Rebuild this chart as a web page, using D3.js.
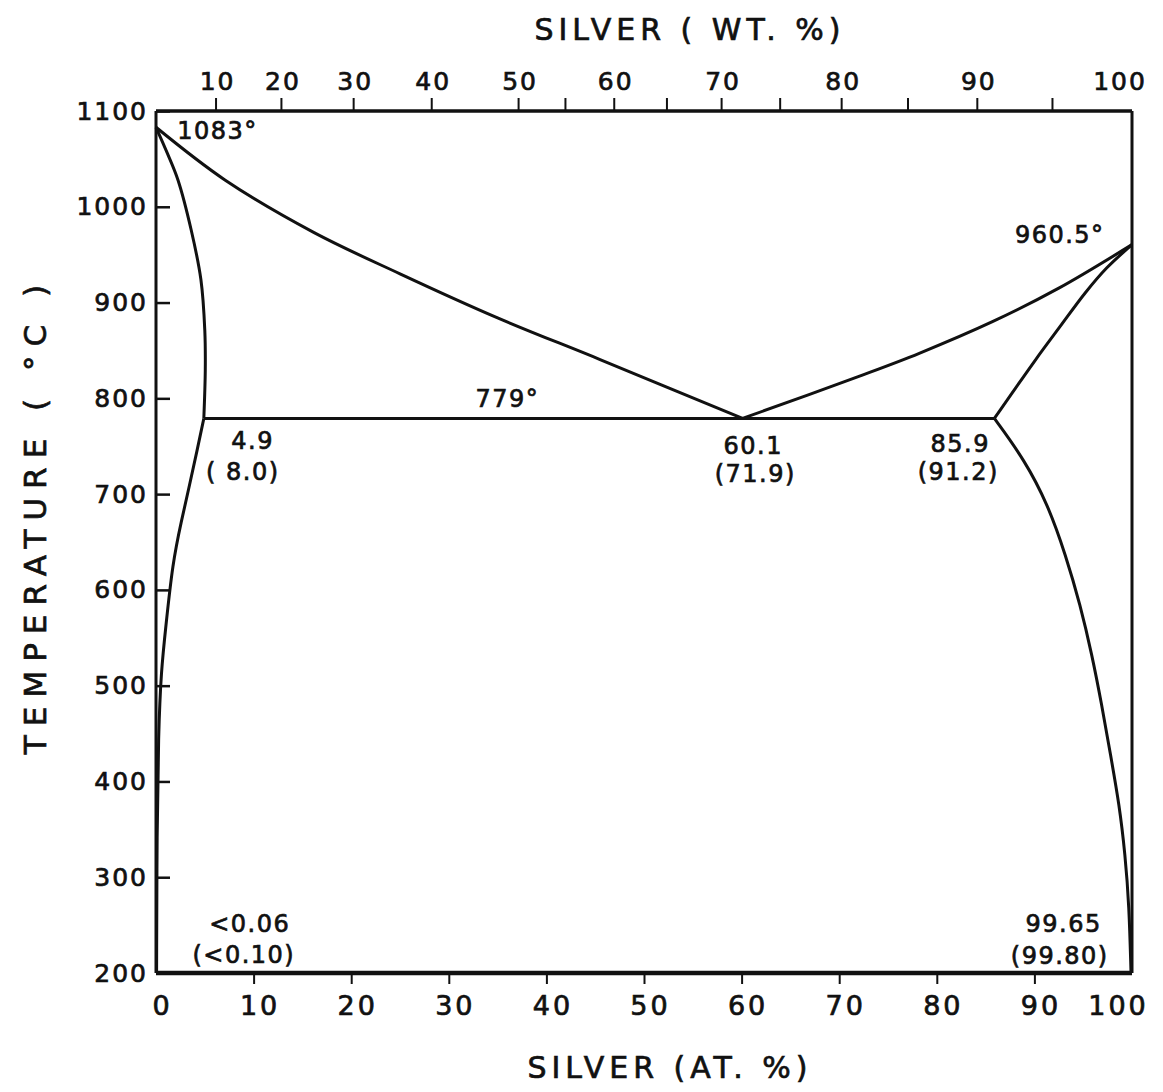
<!DOCTYPE html>
<html>
<head>
<meta charset="utf-8">
<script src="https://cdn.jsdelivr.net/npm/d3@7"></script>
<style>
  body { margin: 0; background: #fff; }
  svg text { font-family: "DejaVu Sans", sans-serif; fill: #111; stroke: #111; stroke-width: 0.7; }
</style>
</head>
<body>
<svg id="chart" width="1163" height="1092"></svg>
<script>
// Axis ticks
const atTicks = [0, 10, 20, 30, 40, 50, 60, 70, 80, 90, 100];
const tempTicks = [200, 300, 400, 500, 600, 700, 800, 900, 1000, 1100];
// weight % ticks on the top axis, with their atomic % positions
const wtTicks = [10, 20, 30, 40, 50, 55, 60, 65, 70, 75, 80, 85, 90, 95, 100];
const wtTickAt = [6.1, 12.8, 20.2, 28.2, 37.1, 41.9, 46.9, 52.3, 57.9, 63.9, 70.2, 77.0, 84.1, 91.8, 100];
const wtLabels = ["10", "20", "30", "40", "50", "60", "70", "80", "90", "100"];

// Phase boundaries [at.% Ag, temperature °C]
const liquidusCu = [[0, 1083], [7.06, 1028], [16.2, 973], [25, 930], [35, 884], [45.5, 840.5], [60.1, 779]];
const liquidusAg = [[60.1, 779], [72.3, 824], [78.2, 847], [85.7, 880], [92.5, 915], [100, 960.5]];
const solidusCu = [[0, 1083], [1.2, 1055], [2.25, 1028], [3.6, 976], [4.6, 924], [5.0, 871], [5.05, 830], [4.9, 779]];
const solidusAg = [[85.9, 779], [90.1, 840], [92.6, 874.5], [95.2, 910], [97.4, 936], [100, 960.5]];
const solvusCu = [[4.9, 779], [4.2, 745], [3.45, 710], [2.6, 672], [1.7, 628], [1.0, 561], [0.53, 516], [0.25, 450], [0.1, 350], [0.06, 200]];
const solvusAg = [[85.9, 779], [89.0, 735.6], [91.4, 688.6], [93.2, 636.5], [94.7, 584.3], [95.9, 532.1], [96.9, 480], [97.8, 427.8], [98.7, 375.6], [99.3, 323.4], [99.7, 271.2], [99.9, 200]];
const eutectic = [[4.9, 779], [85.9, 779]];

// Annotations [at.%, temperature, text]
const notes = [
  [6.3, 1078, "1083°"],
  [92.6, 970, "960.5°"],
  [36, 798, "779°"],
  [9.9, 754, "4.9"], [8.9, 722, "( 8.0)"],
  [61.2, 749, "60.1"], [61.4, 720, "(71.9)"],
  [82.4, 751, "85.9"], [82.2, 722, "(91.2)"],
  [9.6, 250, "<0.06"], [9.0, 218, "(<0.10)"],
  [93.0, 250, "99.65"], [92.6, 217, "(99.80)"]
];

const svg = d3.select("#chart");
const x = d3.scaleLinear().domain([0, 100]).range([156, 1132]);
const y = d3.scaleLinear().domain([200, 1100]).range([973, 111]);

// frame
const frame = svg.append("g").attr("stroke", "#111").attr("fill", "none");
frame.append("line").attr("x1", x(0)).attr("x2", x(100)).attr("y1", y(1100)).attr("y2", y(1100)).attr("stroke-width", 3.5);
frame.append("line").attr("x1", x(0)).attr("x2", x(100)).attr("y1", y(200)).attr("y2", y(200)).attr("stroke-width", 4.5);
frame.append("line").attr("x1", x(0)).attr("x2", x(0)).attr("y1", y(1100)).attr("y2", y(200)).attr("stroke-width", 3);
frame.append("line").attr("x1", x(100)).attr("x2", x(100)).attr("y1", y(1100)).attr("y2", y(200)).attr("stroke-width", 3);

// left axis, inward ticks
const leftAxis = svg.append("g")
  .attr("transform", `translate(${x(0)},0)`)
  .call(d3.axisLeft(y).tickValues(tempTicks).tickSize(-14).tickPadding(8).tickFormat(d3.format("d")));
leftAxis.select(".domain").remove();
leftAxis.selectAll(".tick line").attr("stroke", "#111").attr("stroke-width", 2.5);
leftAxis.selectAll(".tick text").attr("font-size", 25).attr("letter-spacing", 2).attr("dy", "0.32em");

// bottom axis, outward ticks
const bottomAxis = svg.append("g")
  .attr("transform", `translate(0,${y(200)})`)
  .call(d3.axisBottom(x).tickValues(atTicks).tickSize(11).tickPadding(12).tickFormat(d3.format("d")));
bottomAxis.select(".domain").remove();
bottomAxis.selectAll(".tick line").attr("stroke", "#111").attr("stroke-width", 2)
  .attr("display", d => (d === 0 || d === 100) ? "none" : null);
bottomAxis.selectAll(".tick text").attr("font-size", 27).attr("letter-spacing", 3)
  .attr("dx", d => d === 100 ? -14 : 6);

// top axis (weight %)
const topAxis = svg.append("g")
  .attr("transform", `translate(0,${y(1100)})`)
  .call(d3.axisTop(x).tickValues(wtTickAt.slice(0, -1)).tickSize(13).tickFormat(""));
topAxis.select(".domain").remove();
topAxis.selectAll(".tick line").attr("stroke", "#111").attr("stroke-width", 2);
svg.append("g").selectAll("text")
  .data(wtLabels)
  .join("text")
  .attr("x", d => x(wtTickAt[wtTicks.indexOf(+d)]) + (d === "100" ? -12 : 2))
  .attr("y", 90)
  .attr("text-anchor", "middle")
  .attr("font-size", 25)
  .attr("letter-spacing", 2)
  .text(d => d);

// phase boundaries
const smooth = d3.line()
  .x(d => x(d[0]))
  .y(d => y(d[1]))
  .curve(d3.curveCatmullRom.alpha(0.5));
const soft = d3.line()
  .x(d => x(d[0]))
  .y(d => y(d[1]))
  .curve(d3.curveBasis);
const curves = [
  [liquidusCu, smooth], [liquidusAg, smooth], [eutectic, smooth],
  [solidusCu, smooth], [solidusAg, smooth], [solvusCu, soft], [solvusAg, soft]
];
svg.append("g").selectAll("path")
  .data(curves)
  .join("path")
  .attr("d", d => d[1](d[0]))
  .attr("fill", "none")
  .attr("stroke", "#111")
  .attr("stroke-width", 3)
  .attr("stroke-linejoin", "round");

// annotations
svg.append("g").selectAll("text")
  .data(notes)
  .join("text")
  .attr("x", d => x(d[0]))
  .attr("y", d => y(d[1]))
  .attr("text-anchor", "middle")
  .attr("dominant-baseline", "middle")
  .attr("font-size", 24)
  .attr("letter-spacing", 1.5)
  .text(d => d[2]);

// axis titles
svg.append("text")
  .attr("x", 690).attr("y", 40)
  .attr("text-anchor", "middle")
  .attr("font-size", 30)
  .attr("letter-spacing", 5)
  .text("SILVER ( WT. %)");
svg.append("text")
  .attr("x", 670).attr("y", 1078)
  .attr("text-anchor", "middle")
  .attr("font-size", 30)
  .attr("letter-spacing", 5)
  .text("SILVER (AT. %)");
svg.append("text")
  .attr("transform", "translate(46,515) rotate(-90)")
  .attr("text-anchor", "middle")
  .attr("font-size", 31)
  .attr("letter-spacing", 9)
  .text("TEMPERATURE ( °C )");
</script>
</body>
</html>
